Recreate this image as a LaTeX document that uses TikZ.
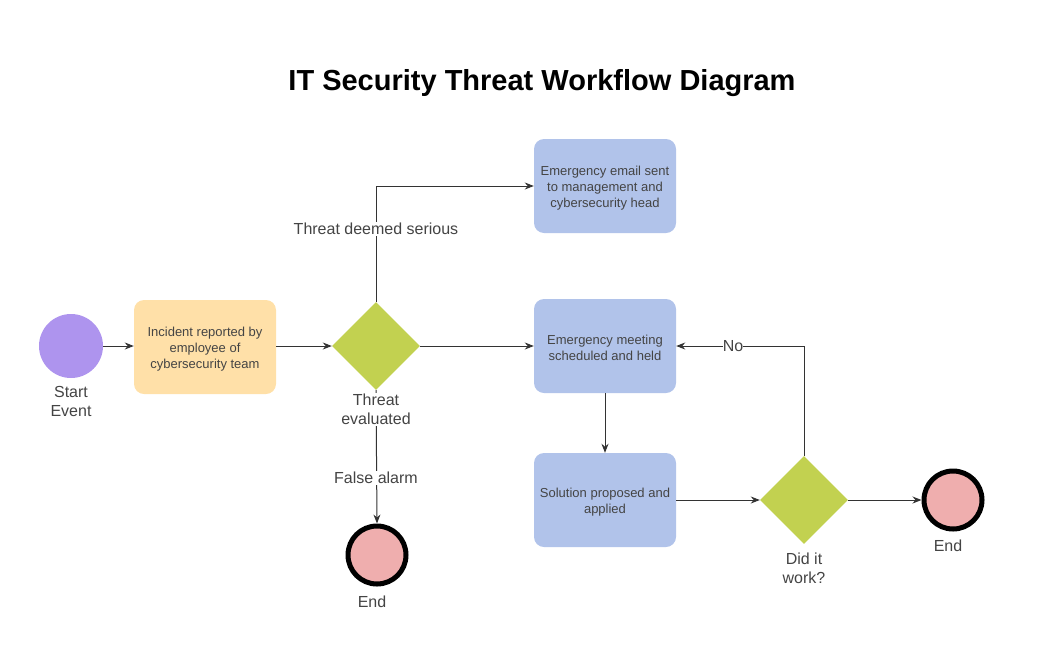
\documentclass[tikz,border=0pt]{standalone}
\usepackage{fontspec}
\setmainfont{Liberation Sans}
\usetikzlibrary{shapes.geometric,arrows.meta}
\definecolor{startc}{HTML}{AE94EE}
\definecolor{endc}{HTML}{EFAEAE}
\definecolor{boxblue}{HTML}{B1C3EA}
\definecolor{boxorange}{HTML}{FFE0A8}
\definecolor{gatec}{HTML}{C2D150}
\definecolor{linec}{HTML}{333333}
\definecolor{txtc}{HTML}{444444}
\tikzset{
  stepbox/.style={rectangle, rounded corners=10pt, minimum width=142pt, minimum height=94pt, inner sep=0pt},
  boxtext/.style={align=center, font=\fontsize{13}{16}\selectfont, text=txtc, inner sep=0pt},
  gate/.style={diamond, fill=gatec, minimum width=88pt, minimum height=88pt, inner sep=0pt},
  startev/.style={circle, fill=startc, minimum size=64pt, inner sep=0pt},
  endev/.style={circle, fill=endc, draw=black, line width=5pt, minimum size=58pt, inner sep=0pt},
  lbl/.style={font=\fontsize{16}{19}\selectfont, text=txtc, align=center, inner sep=1pt},
  conn/.style={draw=linec, line width=1pt, -{Stealth[length=9pt,width=7pt]}},
}
\begin{document}
\begin{tikzpicture}[x=1pt,y=-1pt]
\useasboundingbox (0,0) rectangle (1047,662);
\node[font=\fontsize{29}{33}\selectfont\bfseries] (title) at (542,83) {IT Security Threat Workflow Diagram};
\node[startev] (start) at (71,346) {};
\node[lbl, anchor=north] (startl) at (71,385) {Start\\Event};
\node[stepbox, fill=boxorange] (incident) at (205,347) {};
\node[boxtext] (incidentt) at (205,349) {Incident reported by\\employee of\\cybersecurity team};
\node[gate] (eval) at (376,346) {};
\node[stepbox, fill=boxblue] (email) at (605,186) {};
\node[boxtext] (emailt) at (605,188) {Emergency email sent\\to management and\\cybersecurity head};
\node[stepbox, fill=boxblue] (meeting) at (605,346) {};
\node[boxtext] (meetingt) at (605,348) {Emergency meeting\\scheduled and held};
\node[stepbox, fill=boxblue] (solution) at (605,500) {};
\node[boxtext] (solutiont) at (605,502) {Solution proposed and\\applied};
\node[gate] (work) at (804,500) {};
\node[lbl, anchor=north] (workl) at (804,552) {Did it\\work?};
\node[endev] (end1) at (377,555) {};
\node[lbl] (end1l) at (372,602) {End};
\node[endev] (end2) at (953,500) {};
\node[lbl] (end2l) at (948,546) {End};
\coordinate (c1) at (376,186);
\coordinate (c2) at (804,346);
\draw[conn] (start) -- (incident.west |- start);
\draw[conn] (incident.east |- eval) -- (eval);
\draw[conn] (eval.north) -- (c1) -- (email.west |- c1);
\draw[conn] (eval.east) -- (meeting.west |- eval);
\draw[conn] (eval.south) -- (end1.north);
\draw[conn] (meeting.south) -- (solution.north);
\draw[conn] (solution.east |- work) -- (work.west);
\draw[conn] (work.east) -- (end2.west);
\draw[conn] (work.north) -- (c2) -- (meeting.east |- c2);
\node[lbl, fill=white, anchor=north] (evall) at (376,393) {Threat\\evaluated};
\node[lbl, fill=white] (serious) at (376,229) {Threat deemed serious};
\node[lbl, fill=white] (falsel) at (376,478) {False alarm};
\node[lbl, fill=white, inner sep=0pt] (nol) at (733,346) {No};
\end{tikzpicture}
\end{document}
